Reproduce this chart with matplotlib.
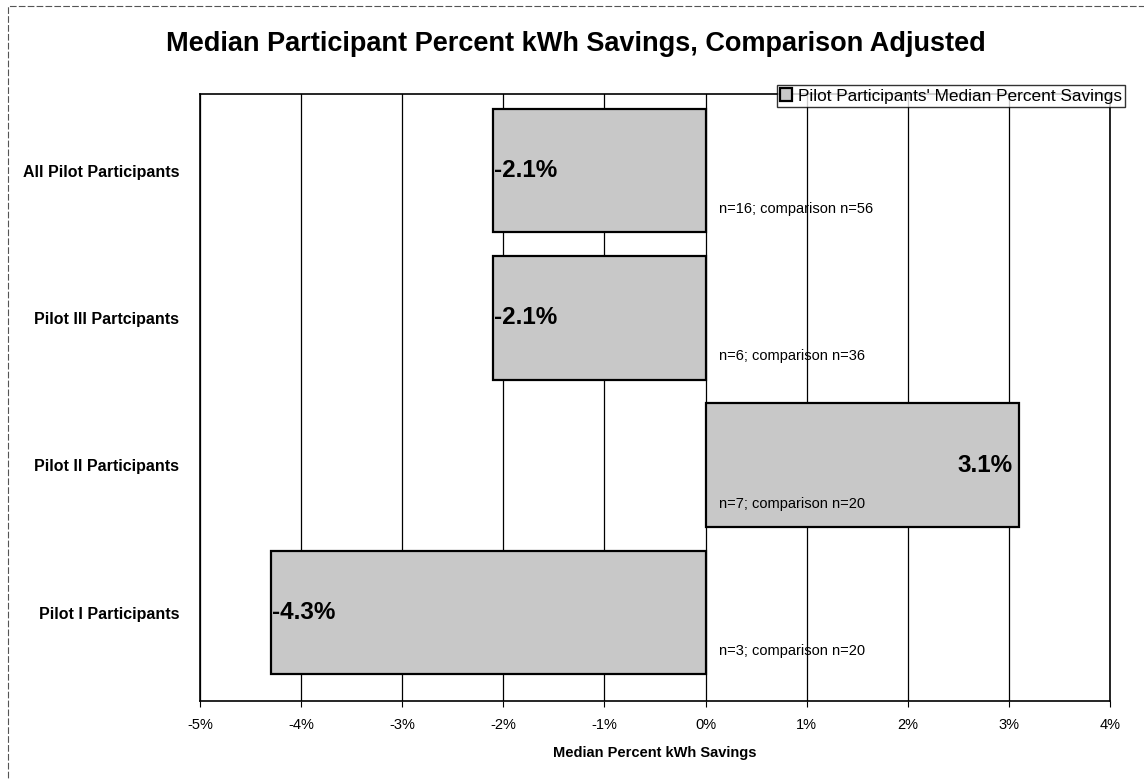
import numpy as np
import matplotlib
matplotlib.use("Agg")
import matplotlib.pyplot as plt
from matplotlib.patches import Rectangle

# Chart data (bottom to top)
groups = ["Pilot I Participants", "Pilot II Participants",
          "Pilot III Partcipants", "All Pilot Participants"]
savings = [-4.3, 3.1, -2.1, -2.1]  # median percent kWh savings
sample_notes = ["n=3; comparison n=20", "n=7; comparison n=20",
                "n=6; comparison n=36", "n=16; comparison n=56"]
xticks = [-5, -4, -3, -2, -1, 0, 1, 2, 3, 4]

plt.rcParams['font.family'] = ['Liberation Sans', 'DejaVu Sans']

W, H = 1144, 779
fig = plt.figure(figsize=(W/100, H/100), dpi=100)
ax = fig.add_axes([200/W, 1-701/H, (1110-200)/W, (701-94)/H])

y = np.arange(len(groups))
ax.barh(y, savings, height=0.84, color='#c8c8c8', edgecolor='black',
        linewidth=1.6, label="Pilot Participants' Median Percent Savings",
        zorder=3)

# value labels inside the bar ends
for yi, v in zip(y, savings):
    if v < 0:
        ax.text(v + 0.01, yi, f"{v:.1f}%", ha='left', va='center',
                fontsize=17.5, fontweight='bold', zorder=4)
    else:
        ax.text(v - 0.06, yi, f"{v:.1f}%", ha='right', va='center',
                fontsize=17.5, fontweight='bold', zorder=4)

# sample sizes under each bar
for yi, note in zip(y, sample_notes):
    ax.text(0.13, yi - 0.26, note, ha='left', va='center', fontsize=10.5, zorder=4)

ax.set_xlim(-5, 4)
ax.set_ylim(-0.6, 3.52)
ax.set_xticks(xticks)
ax.set_xticklabels([f"{t}%" for t in xticks], fontsize=10.5)
ax.set_yticks(y)
ax.set_yticklabels(groups, fontsize=11.5, fontweight='bold')
ax.tick_params(axis='y', length=0, pad=15)
ax.tick_params(axis='x', length=4, direction='out', pad=8.5)
ax.xaxis.grid(True, color='black', linewidth=0.9, zorder=1)
ax.set_axisbelow(True)
for s in ax.spines.values():
    s.set_linewidth(1.2)

ax.set_xlabel("Median Percent kWh Savings", fontsize=10.5, fontweight='bold',
              labelpad=10)

fig.suptitle("Median Participant Percent kWh Savings, Comparison Adjusted",
             fontsize=19.5, fontweight='bold', x=576/W, y=1-44/H, va='center')

leg = ax.legend(loc='upper right', bbox_to_anchor=((1125-200)/910, (701-85)/607),
                fontsize=12.4, frameon=True, fancybox=False, borderpad=0.2,
                handlelength=0.7, handleheight=0.7, handletextpad=0.3,
                borderaxespad=0.0)
leg.get_frame().set_edgecolor('black')
leg.get_frame().set_linewidth(1.0)

# outer frame of the figure
fig.add_artist(Rectangle((8/W, -0.01), 1.2, 1-6/H + 0.01, transform=fig.transFigure,
                         fill=False, edgecolor='#555555', linewidth=0.8,
                         linestyle=(0, (6, 2))))

fig.savefig("out.png", dpi=100)
